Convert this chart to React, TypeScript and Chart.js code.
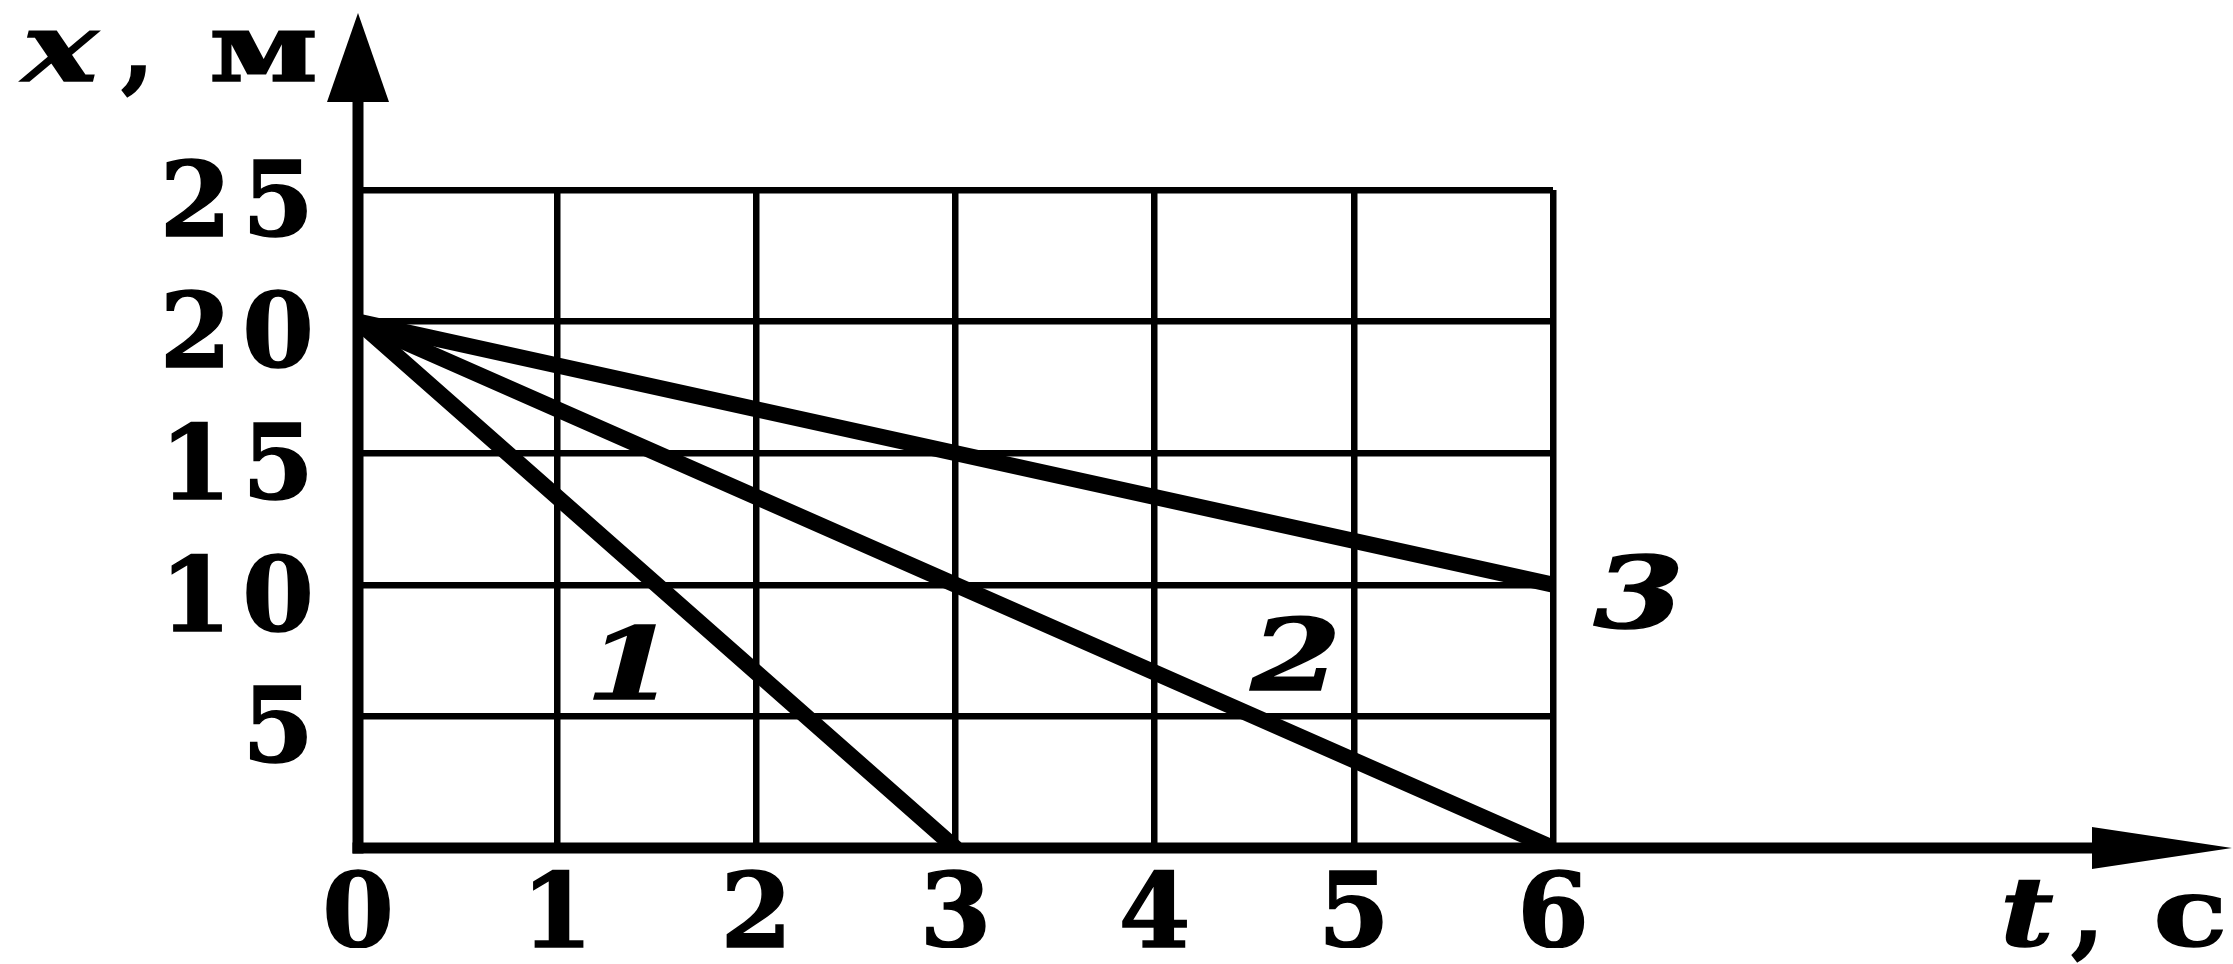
import React, { useEffect, useRef } from "react";
import { Chart, registerables } from "chart.js";

Chart.register(...registerables);

// ---- data ----
const timeTicks = [0, 1, 2, 3, 4, 5, 6];
const coordTicks = [0, 5, 10, 15, 20, 25];

const line1T = [0, 3];
const line1X = [20, 0];
const line2T = [0, 6];
const line2X = [20, 0];
const line3T = [0, 6];
const line3X = [20, 10];

const lineNames = ["1", "2", "3"];
const nameT = [1.37, 4.71, 6.43];
const nameX = [7.07, 7.41, 9.73];

const yTitleParts = ["x", ",", "м"];
const tTitleParts = ["t", ",", "с"];

// ---- styles ----
const FONT = "'DejaVu Serif', serif";
const TICK_SIZE = 103;
const TITLE_SIZE = 96;
const LABEL_SIZE = 100;
const LABEL_STRETCH = 1.3;
const GRID_W = 6.5;
const AXIS_W = 11;
const LINE_W = 16;
const LS = 11;
const TEXT_STROKE = 1.5;

const toPts = (ts: number[], xs: number[]) => ts.map((t, i) => ({ x: t, y: xs[i] }));

function drawFit(ctx: any, text: string, font: string, inkLeft: number, inkRight: number, baseline: number) {
  ctx.font = font;
  ctx.textAlign = "left";
  ctx.textBaseline = "alphabetic";
  const m = ctx.measureText(text);
  const w = m.actualBoundingBoxLeft + m.actualBoundingBoxRight;
  const s = w > 0 ? (inkRight - inkLeft) / w : 1;
  ctx.save();
  ctx.translate(inkLeft, baseline);
  ctx.scale(s, 1);
  ctx.lineWidth = TEXT_STROKE;
  ctx.fillText(text, m.actualBoundingBoxLeft, 0);
  ctx.strokeText(text, m.actualBoundingBoxLeft, 0);
  ctx.restore();
}

const decorPlugin = {
  id: "decor",
  beforeDraw(chart: any) {
    const ctx = chart.ctx;
    ctx.save();
    ctx.fillStyle = "#fff";
    ctx.fillRect(0, 0, chart.width, chart.height);
    ctx.restore();
    try { (ctx as any).letterSpacing = LS + "px"; } catch (e) {}
  },
  afterDraw(chart: any) {
    const ctx = chart.ctx;
    try { (ctx as any).letterSpacing = "0px"; } catch (e) {}
    const sx = chart.scales.x;
    const sy = chart.scales.y;
    const x0 = sx.getPixelForValue(0);
    const y0 = sy.getPixelForValue(0);
    const W = chart.width;
    ctx.save();
    ctx.fillStyle = "#000";
    ctx.strokeStyle = "#000";
    ctx.lineWidth = AXIS_W;
    ctx.lineCap = "butt";
    // y axis + arrow
    ctx.beginPath();
    ctx.moveTo(x0, y0 + AXIS_W / 2);
    ctx.lineTo(x0, 95);
    ctx.stroke();
    ctx.beginPath();
    ctx.moveTo(x0, 13);
    ctx.lineTo(x0 - 31, 102);
    ctx.lineTo(x0 + 31, 102);
    ctx.closePath();
    ctx.fill();
    // x axis + arrow
    ctx.beginPath();
    ctx.moveTo(x0 - AXIS_W / 2, y0);
    ctx.lineTo(W - 130, y0);
    ctx.stroke();
    ctx.beginPath();
    ctx.moveTo(W - 1, y0);
    ctx.lineTo(W - 141, y0 - 21);
    ctx.lineTo(W - 141, y0 + 21);
    ctx.closePath();
    ctx.fill();

    const italic = `italic bold ${TITLE_SIZE}px ${FONT}`;
    const bold = `bold ${TITLE_SIZE}px ${FONT}`;
    // "x, м" next to the y arrow
    drawFit(ctx, yTitleParts[0], italic, x0 - 338, x0 - 258, 81);
    drawFit(ctx, yTitleParts[1], bold, x0 - 236, x0 - 212, 81);
    drawFit(ctx, yTitleParts[2], bold, x0 - 145, x0 - 43, 81);
    // "t, с" under the x arrow
    drawFit(ctx, tTitleParts[0], italic, W - 228, W - 180, 946);
    drawFit(ctx, tTitleParts[1], bold, W - 161, W - 137, 946);
    drawFit(ctx, tTitleParts[2], bold, W - 76, W - 10, 946);

    // line names
    ctx.font = `italic bold ${LABEL_SIZE}px ${FONT}`;
    ctx.textAlign = "center";
    ctx.textBaseline = "alphabetic";
    ctx.lineWidth = TEXT_STROKE;
    lineNames.forEach((name, i) => {
      const px = sx.getPixelForValue(nameT[i]);
      const py = sy.getPixelForValue(nameX[i]);
      const m = ctx.measureText(name);
      const base = py + (m.actualBoundingBoxAscent - m.actualBoundingBoxDescent) / 2;
      ctx.save();
      ctx.translate(px, base);
      ctx.scale(LABEL_STRETCH, 1);
      ctx.fillText(name, 0, 0);
      ctx.strokeText(name, 0, 0);
      ctx.restore();
    });
    ctx.restore();
  },
};

export default function App() {
  const ref = useRef<HTMLCanvasElement | null>(null);
  useEffect(() => {
    document.body.style.margin = "0";
    const canvas = ref.current;
    if (!canvas) return;
    const ds = (ts: number[], xs: number[]) => ({
      data: toPts(ts, xs),
      borderColor: "#000",
      backgroundColor: "#000",
      borderWidth: LINE_W,
      borderCapStyle: "round" as const,
      borderJoinStyle: "round" as const,
      pointRadius: 0,
      fill: false,
      tension: 0,
    });
    const tickFont = { family: FONT, size: TICK_SIZE, weight: "bold" as const };
    const chart = new Chart(canvas, {
      type: "line",
      data: {
        datasets: [ds(line1T, line1X), ds(line2T, line2X), ds(line3T, line3X)],
      },
      options: {
        animation: false,
        responsive: false,
        maintainAspectRatio: false,
        devicePixelRatio: 1,
        layout: { padding: { left: 158, right: 680, top: 190, bottom: 16 } },
        plugins: { legend: { display: false }, tooltip: { enabled: false }, title: { display: false } },
        scales: {
          x: {
            type: "linear",
            min: timeTicks[0],
            max: timeTicks[timeTicks.length - 1],
            afterBuildTicks: (s: any) => { s.ticks = timeTicks.map((v) => ({ value: v })); },
            afterFit: (s: any) => { s.height = 100; },
            grid: { color: "#000", lineWidth: GRID_W, drawTicks: false },
            border: { display: false },
            ticks: {
              color: "#000",
              font: tickFont,
              padding: 10,
              labelOffset: LS / 2,
              maxRotation: 0,
              autoSkip: false,
              textStrokeColor: "#000",
              textStrokeWidth: TEXT_STROKE,
            },
          },
          y: {
            type: "linear",
            min: coordTicks[0],
            max: coordTicks[coordTicks.length - 1],
            afterBuildTicks: (s: any) => { s.ticks = coordTicks.map((v) => ({ value: v })); },
            afterFit: (s: any) => { s.width = 200; },
            grid: { color: "#000", lineWidth: GRID_W, drawTicks: false },
            border: { display: false },
            ticks: {
              color: "#000",
              font: tickFont,
              padding: 33,
              labelOffset: 19,
              autoSkip: false,
              textStrokeColor: "#000",
              textStrokeWidth: TEXT_STROKE,
              callback: (v: any) => (Number(v) === 0 ? "" : String(v)),
            },
          },
        },
      },
      plugins: [decorPlugin],
    });
    return () => chart.destroy();
  }, []);
  return (
    <div style={{ position: "fixed", left: 0, top: 0, width: 2233, height: 964, background: "#fff" }}>
      <canvas ref={ref} width={2233} height={964} style={{ display: "block", width: 2233, height: 964 }} />
    </div>
  );
}
